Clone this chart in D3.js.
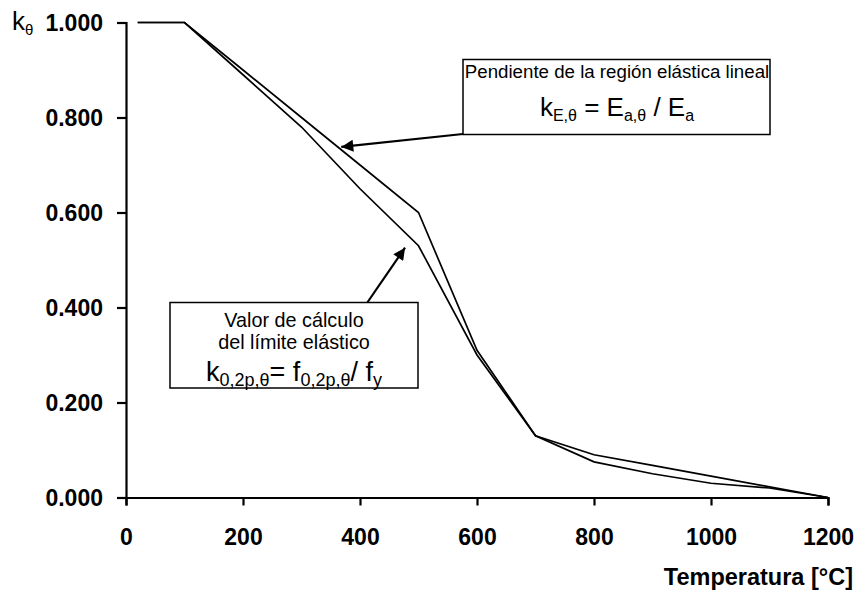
<!DOCTYPE html>
<html lang="es">
<head>
<meta charset="UTF-8">
<title>k factors</title>
<script src="https://d3js.org/d3.v7.min.js"></script>
<style>
  body { margin: 0; background: #fff; }
  svg { display: block; font-family: "Liberation Sans", Arial, sans-serif; }
</style>
</head>
<body>
<svg id="chart"></svg>
<script>
// temperatures (°C)
const temps = [20, 100, 200, 300, 400, 500, 600, 700, 800, 900, 1000, 1100, 1200];
// k_E,theta  (slope of linear elastic range)
const kE = [1.0, 1.0, 0.9, 0.8, 0.7, 0.6, 0.31, 0.13, 0.09, 0.0675, 0.045, 0.0225, 0.0];
// k_0,2p,theta (design yield strength)
const k02p = [1.0, 1.0, 0.89, 0.78, 0.65, 0.53, 0.30, 0.13, 0.075, 0.05, 0.03, 0.02, 0.0];

const xTicks = [0, 200, 400, 600, 800, 1000, 1200];
const yTicks = [0, 0.2, 0.4, 0.6, 0.8, 1.0];

const width = 859, height = 593;
const x = d3.scaleLinear().domain([0, 1200]).range([126, 828]);
const y = d3.scaleLinear().domain([0, 1]).range([497.5, 22.5]);

const svg = d3.select("#chart").attr("width", width).attr("height", height);
svg.append("rect").attr("width", width).attr("height", height).attr("fill", "#fff");

// arrow head
svg.append("defs").append("marker")
  .attr("id", "head")
  .attr("viewBox", "0 0 10 10")
  .attr("refX", 10).attr("refY", 5)
  .attr("markerUnits", "userSpaceOnUse")
  .attr("markerWidth", 16).attr("markerHeight", 12)
  .attr("orient", "auto")
  .append("path").attr("d", "M0,0 L10,5 L0,10 Z").attr("fill", "#000");

// axes
const xAxis = svg.append("g")
  .attr("transform", `translate(0,${y(0)})`)
  .call(d3.axisBottom(x).tickValues(xTicks).tickFormat(d3.format("d"))
    .tickSizeOuter(0).tickSize(8).tickPadding(23));
const yAxis = svg.append("g")
  .attr("transform", `translate(${x(0)},0)`)
  .call(d3.axisLeft(y).tickValues(yTicks).tickFormat(d3.format(".3f"))
    .tickSizeOuter(0).tickSize(9).tickPadding(14));

[xAxis, yAxis].forEach(g => {
  g.select(".domain").attr("stroke", "#000").attr("stroke-width", 2.2);
  g.selectAll(".tick line").attr("stroke", "#000").attr("stroke-width", 2.2);
  g.selectAll(".tick text")
    .attr("fill", "#000")
    .attr("font-size", 23)
    .attr("font-weight", "bold")
    .attr("font-family", "'Liberation Sans', Arial, sans-serif");
});
yAxis.selectAll(".tick text").attr("dy", "0.36em");

// data lines
const line = d3.line().x(d => x(d[0])).y(d => y(d[1]));
[kE, k02p].forEach(series => {
  svg.append("path")
    .datum(temps.map((t, i) => [t, series[i]]))
    .attr("fill", "none")
    .attr("stroke", "#000")
    .attr("stroke-width", 1.7)
    .attr("stroke-linejoin", "miter")
    .attr("d", line);
});

// y label k_theta
const yl = svg.append("text").attr("x", 12).attr("y", 30).attr("font-size", 26);
yl.append("tspan").text("k");
yl.append("tspan").attr("font-size", 15).attr("dy", 5).text("θ");

// x label
svg.append("text")
  .attr("x", 853).attr("y", 585)
  .attr("text-anchor", "end")
  .attr("font-size", 23.5).attr("font-weight", "bold")
  .text("Temperatura [°C]");

// annotation 1
svg.append("line")
  .attr("x1", 463).attr("y1", 134)
  .attr("x2", x(368)).attr("y2", y(0.738))
  .attr("stroke", "#000").attr("stroke-width", 2.2)
  .attr("marker-end", "url(#head)");
svg.append("rect")
  .attr("x", 463).attr("y", 59.5).attr("width", 307).attr("height", 75)
  .attr("fill", "#fff").attr("stroke", "#000").attr("stroke-width", 1.5);
svg.append("text").attr("x", 617).attr("y", 78).attr("text-anchor", "middle")
  .attr("font-size", 18.7).text("Pendiente de la región elástica lineal");
const f1 = svg.append("text").attr("x", 617).attr("y", 116).attr("text-anchor", "middle").attr("font-size", 26);
f1.append("tspan").text("k");
f1.append("tspan").attr("font-size", 16).attr("dy", 5).text("E,θ");
f1.append("tspan").attr("dy", -5).text(" = E");
f1.append("tspan").attr("font-size", 16).attr("dy", 5).text("a,θ");
f1.append("tspan").attr("dy", -5).text(" / E");
f1.append("tspan").attr("font-size", 16).attr("dy", 5).text("a");

// annotation 2
svg.append("line")
  .attr("x1", 367).attr("y1", 303)
  .attr("x2", x(477)).attr("y2", y(0.526))
  .attr("stroke", "#000").attr("stroke-width", 2.2)
  .attr("marker-end", "url(#head)");
svg.append("rect")
  .attr("x", 170).attr("y", 302.5).attr("width", 248).attr("height", 85.5)
  .attr("fill", "#fff").attr("stroke", "#000").attr("stroke-width", 1.5);
svg.append("text").attr("x", 294).attr("y", 327).attr("text-anchor", "middle")
  .attr("font-size", 19.8).text("Valor de cálculo");
svg.append("text").attr("x", 294).attr("y", 348.5).attr("text-anchor", "middle")
  .attr("font-size", 19.8).text("del límite elástico");
const f2 = svg.append("text").attr("x", 294).attr("y", 381).attr("text-anchor", "middle").attr("font-size", 27);
f2.append("tspan").text("k");
f2.append("tspan").attr("font-size", 18).attr("dy", 5).text("0,2p,θ");
f2.append("tspan").attr("dy", -5).text("= f");
f2.append("tspan").attr("font-size", 18).attr("dy", 5).text("0,2p,θ");
f2.append("tspan").attr("dy", -5).text("/ f");
f2.append("tspan").attr("font-size", 18).attr("dy", 5).text("y");
</script>
</body>
</html>
